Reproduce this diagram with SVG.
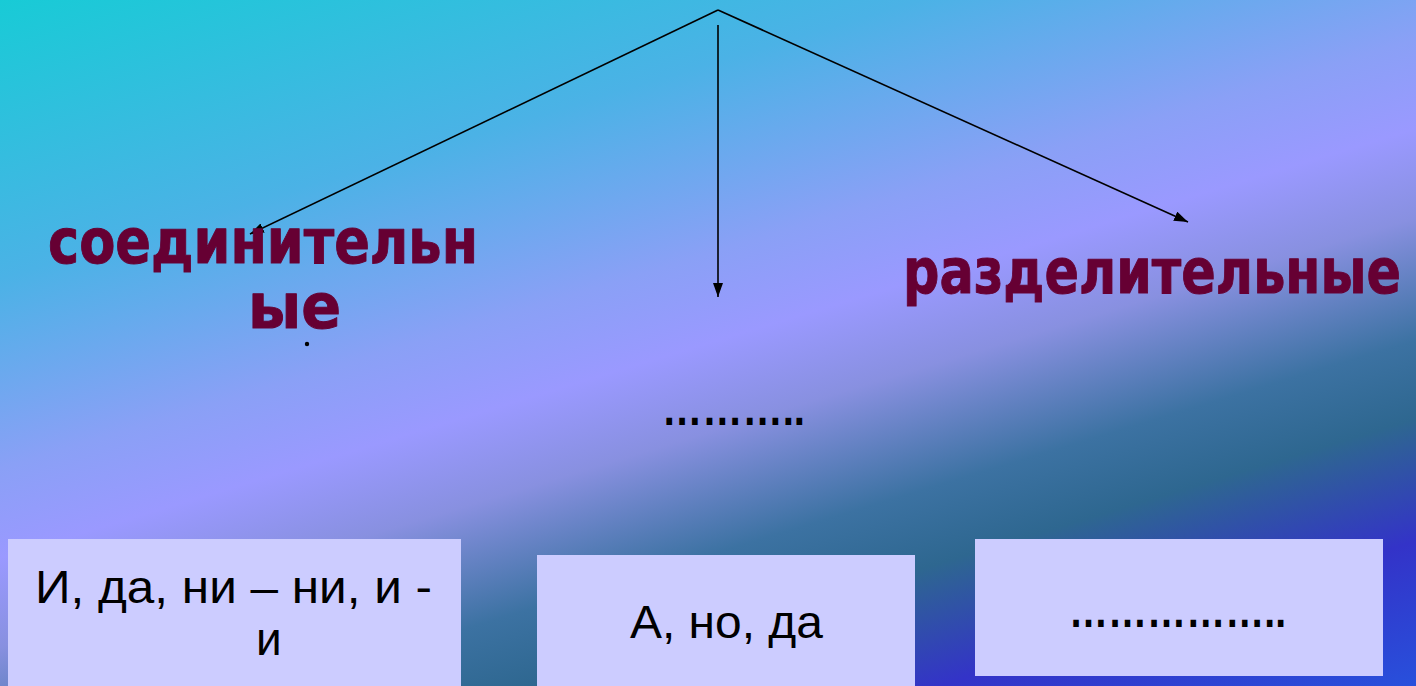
<svg xmlns="http://www.w3.org/2000/svg" width="1416" height="686" viewBox="0 0 1416 686">
<defs>
<linearGradient id="bg" gradientUnits="userSpaceOnUse" x1="0" y1="0" x2="310" y2="1022">
<stop offset="0" stop-color="#18cbd6"/>
<stop offset="0.25" stop-color="#4bb2e6"/>
<stop offset="0.42" stop-color="#8aa0f6"/>
<stop offset="0.5" stop-color="#9a99ff"/>
<stop offset="0.58" stop-color="#8890e0"/>
<stop offset="0.69" stop-color="#3c72a2"/>
<stop offset="0.76" stop-color="#2e6790"/>
<stop offset="0.87" stop-color="#3333c8"/>
<stop offset="1" stop-color="#2850dc"/>
</linearGradient>
<marker id="arr" viewBox="0 0 14 10" refX="14" refY="5" markerWidth="14" markerHeight="10" markerUnits="userSpaceOnUse" orient="auto">
<path d="M0,0 L14,5 L0,10 z" fill="#000"/>
</marker>
</defs>
<style>
.head{font-family:"DejaVu Sans","Liberation Sans",sans-serif;font-weight:bold;font-size:62px;fill:#660033;stroke:#660033;stroke-width:1;stroke-linejoin:round}
.box{fill:#ccccff}
.t{font-family:"Liberation Sans","Noto Sans",sans-serif;font-size:46px;fill:#000}
.dots{font-family:"Liberation Sans","Noto Sans",sans-serif;font-weight:bold;font-size:48px;fill:#000}
.ln{stroke:#000;stroke-width:1.6;fill:none}
</style>
<rect width="1416" height="686" fill="url(#bg)"/>
<g id="connectors">
<line class="ln" x1="718" y1="10" x2="250" y2="234" marker-end="url(#arr)"/>
<line class="ln" x1="718" y1="10" x2="1188" y2="222" marker-end="url(#arr)"/>
<line class="ln" x1="718" y1="25" x2="718" y2="297" marker-end="url(#arr)"/>
</g>
<g id="node-soed">
<text class="head" x="48" y="263" textLength="430" lengthAdjust="spacingAndGlyphs">соединительн</text>
<text class="head" x="248" y="328" textLength="93" lengthAdjust="spacingAndGlyphs">ые</text>
<circle cx="307" cy="344" r="2.2" fill="#000"/>
</g>
<g id="node-razd">
<text class="head" x="903" y="293" textLength="498" lengthAdjust="spacingAndGlyphs">разделительные</text>
</g>
<g id="node-middle">
<text class="dots" x="662" y="425" textLength="143" lengthAdjust="spacingAndGlyphs">………..</text>
</g>
<g id="box-1">
<rect class="box" x="8" y="539" width="453" height="147"/>
<text class="t" x="35" y="603" textLength="397" lengthAdjust="spacingAndGlyphs">И, да, ни – ни, и -</text>
<text class="t" x="256" y="655">и</text>
</g>
<g id="box-2">
<rect class="box" x="537" y="555" width="378" height="131"/>
<text class="t" x="630" y="638" textLength="193" lengthAdjust="spacingAndGlyphs">А, но, да</text>
</g>
<g id="box-3">
<rect class="box" x="975" y="539" width="408" height="137"/>
<text class="dots" x="1069" y="627" textLength="217" lengthAdjust="spacingAndGlyphs">……………..</text>
</g>
</svg>
